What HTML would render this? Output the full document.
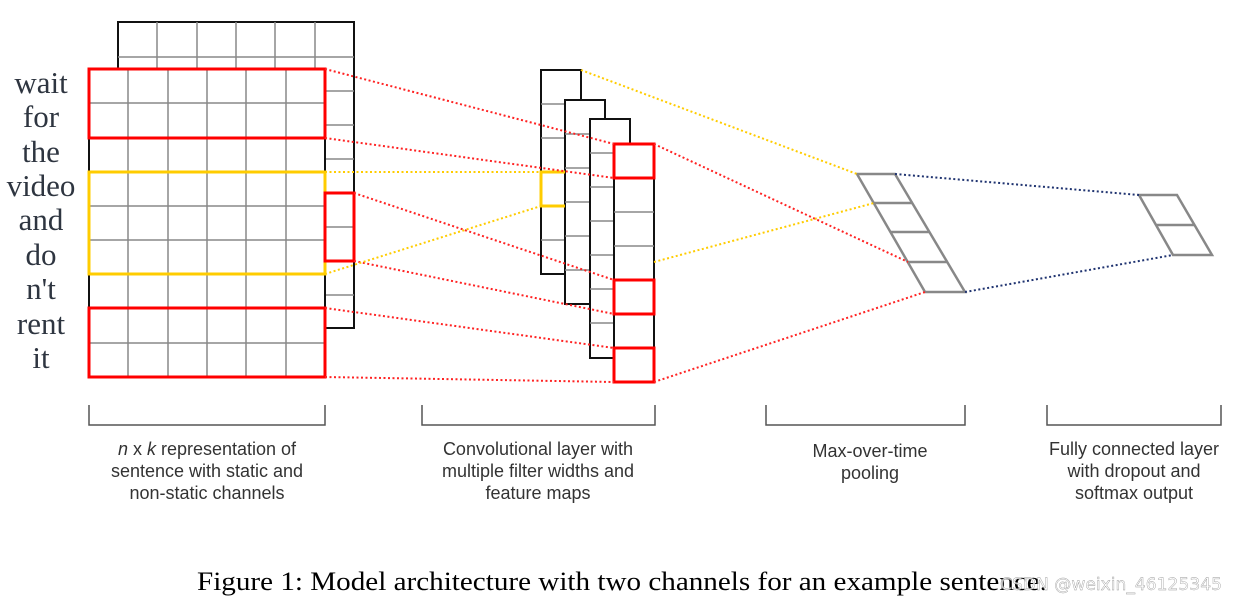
<!DOCTYPE html>
<html><head><meta charset="utf-8"><style>html,body{margin:0;padding:0;background:#fff}svg{display:block}</style></head>
<body>
<svg width="1237" height="604" viewBox="0 0 1237 604" xmlns="http://www.w3.org/2000/svg">
<g fill="none">
<rect x="118" y="22" width="236" height="306" fill="#fff" stroke="#111" stroke-width="2"/>
<g stroke="#888" stroke-width="1.5">
<line x1="157" y1="22" x2="157" y2="69"/><line x1="197" y1="22" x2="197" y2="69"/><line x1="236" y1="22" x2="236" y2="69"/><line x1="275" y1="22" x2="275" y2="69"/><line x1="315" y1="22" x2="315" y2="69"/>
<line x1="118" y1="57" x2="354" y2="57"/>
<line x1="325" y1="91" x2="354" y2="91"/><line x1="325" y1="125" x2="354" y2="125"/><line x1="325" y1="159" x2="354" y2="159"/><line x1="325" y1="227" x2="354" y2="227"/><line x1="325" y1="295" x2="354" y2="295"/>
</g>
<rect x="89" y="69" width="236" height="308" fill="#fff" stroke="#111" stroke-width="2"/>
<g stroke="#888" stroke-width="1.5">
<line x1="128" y1="69" x2="128" y2="377"/><line x1="168" y1="69" x2="168" y2="377"/><line x1="207" y1="69" x2="207" y2="377"/><line x1="246" y1="69" x2="246" y2="377"/><line x1="286" y1="69" x2="286" y2="377"/>
<line x1="89" y1="103" x2="325" y2="103"/><line x1="89" y1="138" x2="325" y2="138"/><line x1="89" y1="172" x2="325" y2="172"/><line x1="89" y1="206" x2="325" y2="206"/><line x1="89" y1="240" x2="325" y2="240"/><line x1="89" y1="274" x2="325" y2="274"/><line x1="89" y1="308" x2="325" y2="308"/><line x1="89" y1="343" x2="325" y2="343"/>
</g>
<rect x="89" y="69" width="236" height="69" stroke="#f00" stroke-width="3"/>
<rect x="89" y="308" width="236" height="69" stroke="#f00" stroke-width="3"/>
<rect x="89" y="172" width="236" height="102" stroke="#fc0" stroke-width="3"/>
<rect x="325" y="193" width="29" height="68" stroke="#f00" stroke-width="3"/>

<rect x="541" y="70" width="40" height="204" fill="#fff" stroke="#111" stroke-width="2"/>
<g stroke="#888" stroke-width="1.5"><line x1="541" y1="104" x2="581" y2="104"/><line x1="541" y1="138" x2="581" y2="138"/><line x1="541" y1="240" x2="581" y2="240"/></g>
<rect x="565" y="100" width="40" height="204" fill="#fff" stroke="#111" stroke-width="2"/>
<g stroke="#888" stroke-width="1.5"><line x1="565" y1="134" x2="605" y2="134"/><line x1="565" y1="168" x2="605" y2="168"/><line x1="565" y1="202" x2="605" y2="202"/><line x1="565" y1="236" x2="605" y2="236"/><line x1="565" y1="270" x2="605" y2="270"/></g>
<rect x="590" y="119" width="40" height="239" fill="#fff" stroke="#111" stroke-width="2"/>
<g stroke="#888" stroke-width="1.5"><line x1="590" y1="153" x2="630" y2="153"/><line x1="590" y1="187" x2="630" y2="187"/><line x1="590" y1="221" x2="630" y2="221"/><line x1="590" y1="255" x2="630" y2="255"/><line x1="590" y1="289" x2="630" y2="289"/><line x1="590" y1="323" x2="630" y2="323"/></g>
<rect x="614" y="144" width="40" height="238" fill="#fff" stroke="#111" stroke-width="2"/>
<g stroke="#888" stroke-width="1.5"><line x1="614" y1="212" x2="654" y2="212"/><line x1="614" y1="246" x2="654" y2="246"/></g>
<rect x="614" y="144" width="40" height="34" stroke="#f00" stroke-width="3"/>
<rect x="614" y="280" width="40" height="34" stroke="#f00" stroke-width="3"/>
<rect x="614" y="348" width="40" height="34" stroke="#f00" stroke-width="3"/>
<polyline points="565,172 541,172 541,206 565,206" stroke="#fc0" stroke-width="3"/>

<g stroke="#888" stroke-width="2.5">
<polygon points="857,174 895,174 965,292 925,292"/>
<line x1="874" y1="203" x2="913" y2="203"/><line x1="891" y1="232" x2="930" y2="232"/><line x1="908" y1="262" x2="948" y2="262"/>
<polygon points="1139,195 1177,195 1212,255 1173,255"/>
<line x1="1156" y1="225" x2="1194" y2="225"/>
</g>

<g stroke-width="2" stroke-dasharray="2,2.5">
<g stroke="#f22">
<line x1="325" y1="69" x2="614" y2="144"/><line x1="325" y1="138" x2="614" y2="178"/>
<line x1="354" y1="193" x2="614" y2="280"/><line x1="354" y1="261" x2="614" y2="314"/>
<line x1="325" y1="308" x2="614" y2="348"/><line x1="325" y1="377" x2="614" y2="382"/>
<line x1="654" y1="144" x2="908" y2="262"/><line x1="654" y1="382" x2="925" y2="292"/>
</g>
<g stroke="#fc0">
<line x1="325" y1="172" x2="541" y2="172"/><line x1="325" y1="274" x2="541" y2="206"/>
<line x1="581" y1="70" x2="857" y2="174"/><line x1="654" y1="262" x2="874" y2="203"/>
</g>
<g stroke="#1f3370">
<line x1="895" y1="174" x2="1139" y2="195"/><line x1="965" y1="292" x2="1173" y2="255"/>
</g>
</g>

<g stroke="#555" stroke-width="1.5">
<polyline points="89,405 89,425 325,425 325,405"/>
<polyline points="422,405 422,425 655,425 655,405"/>
<polyline points="766,405 766,425 965,425 965,405"/>
<polyline points="1047,405 1047,425 1221,425 1221,405"/>
</g>
</g>

<g font-family="Liberation Serif, serif" font-size="31" fill="#2e3540" text-anchor="middle">
<text x="41" y="93">wait</text><text x="41" y="127">for</text><text x="41" y="162">the</text><text x="41" y="196">video</text><text x="41" y="230">and</text><text x="41" y="265">do</text><text x="41" y="299">n't</text><text x="41" y="334">rent</text><text x="41" y="368">it</text>
</g>

<g font-family="Liberation Sans, sans-serif" font-size="18" fill="#333" text-anchor="middle">
<text x="207" y="455"><tspan font-style="italic">n</tspan> x <tspan font-style="italic">k</tspan> representation of</text>
<text x="207" y="477">sentence with static and</text>
<text x="207" y="499">non-static channels</text>
<text x="538" y="455">Convolutional layer with</text>
<text x="538" y="477">multiple filter widths and</text>
<text x="538" y="499">feature maps</text>
<text x="870" y="457">Max-over-time</text>
<text x="870" y="479">pooling</text>
<text x="1134" y="455">Fully connected layer</text>
<text x="1134" y="477">with dropout and</text>
<text x="1134" y="499">softmax output</text>
</g>

<text x="197" y="590" font-family="Liberation Serif, serif" font-size="26" fill="#000" textLength="850" lengthAdjust="spacingAndGlyphs">Figure 1: Model architecture with two channels for an example sentence.</text>
<text x="1000" y="590" font-family="DejaVu Sans, sans-serif" font-size="17" fill="#fff" fill-opacity="0.75" stroke="#999" stroke-width="0.4" textLength="222" lengthAdjust="spacingAndGlyphs">CSDN @weixin_46125345</text>
</svg>
</body></html>
